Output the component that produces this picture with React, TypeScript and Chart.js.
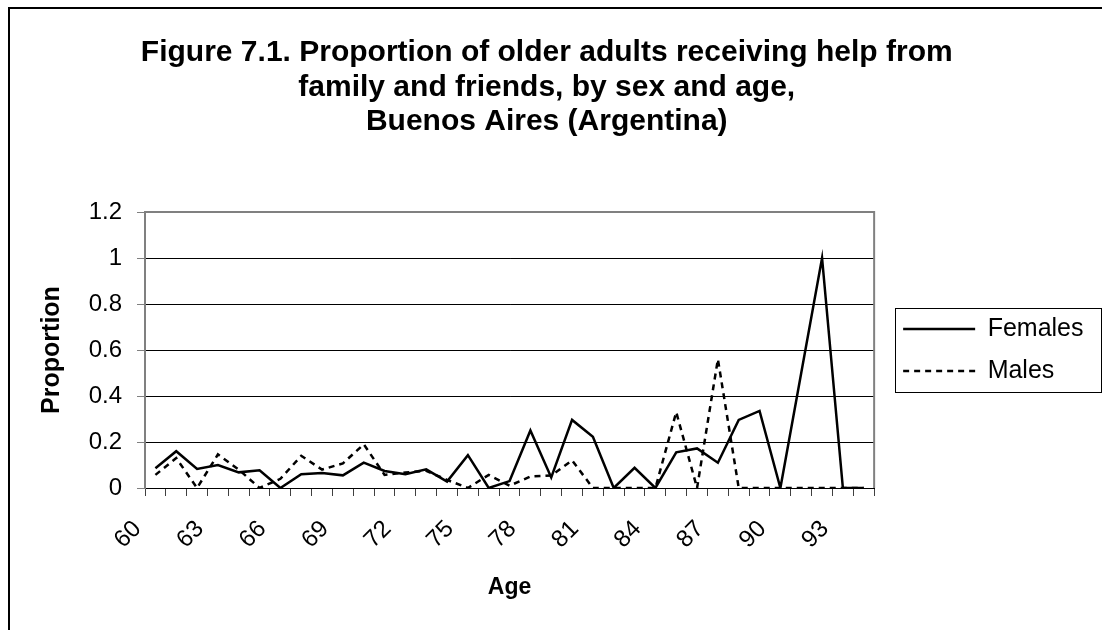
import React, { useEffect, useRef } from 'react';
import { Chart, registerables } from 'chart.js';

Chart.register(...registerables);

const titleLines = [
  'Figure 7.1. Proportion of older adults receiving help from',
  'family and friends, by sex and age,',
  'Buenos Aires (Argentina)',
];
const xAxisTitle = 'Age';
const yAxisTitle = 'Proportion';
const seriesNames = ['Females', 'Males'];

const ages = [
  '60', '61', '62', '63', '64', '65', '66', '67', '68', '69',
  '70', '71', '72', '73', '74', '75', '76', '77', '78', '79',
  '80', '81', '82', '83', '84', '85', '86', '87', '88', '89',
  '90', '91', '92', '93', '94',
];

const females = [
  0.086, 0.16, 0.083, 0.1, 0.068, 0.077, 0, 0.06, 0.065, 0.055,
  0.11, 0.074, 0.06, 0.081, 0.028, 0.143, 0, 0.03, 0.25, 0.046,
  0.296, 0.223, 0, 0.088, 0, 0.155, 0.172, 0.11, 0.296, 0.335,
  0, 0.5, 1.0, 0, 0,
];

const males = [
  0.057, 0.13, 0, 0.146, 0.08, 0, 0.04, 0.14, 0.08, 0.107,
  0.19, 0.057, 0.067, 0.075, 0.035, 0, 0.057, 0.01, 0.05, 0.054,
  0.12, 0, 0, 0, 0, 0.33, 0, 0.56, 0, 0,
  0, 0, 0, 0, 0,
];

const yMax = 1.2;
const yStep = 0.2;
const labelEvery = 3;

const FONT = "'Liberation Sans', Arial, Helvetica, sans-serif";

const plotFrame = {
  id: 'plotFrame',
  beforeDatasetsDraw(chart: any) {
    const { ctx, chartArea: a } = chart;
    ctx.save();
    ctx.strokeStyle = '#808080';
    ctx.lineWidth = 2;
    ctx.beginPath();
    ctx.moveTo(a.left, a.top);
    ctx.lineTo(a.right, a.top);
    ctx.lineTo(a.right, a.bottom);
    ctx.stroke();
    ctx.restore();
  },
};

const legendFrame = {
  id: 'legendFrame',
  afterDraw(chart: any) {
    const lg = chart.legend;
    if (!lg) return;
    const { ctx } = chart;
    const cy = (lg.top + lg.bottom) / 2;
    const left = lg.left + 9;
    const right = chart.width - 1;
    ctx.save();
    ctx.strokeStyle = '#000';
    ctx.lineWidth = 1;
    ctx.strokeRect(Math.round(left) + 0.5, Math.round(cy - 42) + 0.5, Math.round(right - left), 84);
    ctx.restore();
  },
};

export default function App() {
  const canvasRef = useRef<HTMLCanvasElement | null>(null);

  useEffect(() => {
    const canvas = canvasRef.current;
    if (!canvas) return;
    Chart.defaults.font.family = FONT;
    Chart.defaults.color = '#000';

    const chart = new Chart(canvas, {
      type: 'line',
      data: {
        labels: ages,
        datasets: [
          {
            label: seriesNames[0],
            data: females,
            borderColor: '#000',
            backgroundColor: '#000',
            borderWidth: 2.5,
            pointRadius: 0,
            pointStyle: 'line',
            tension: 0,
            fill: false,
          },
          {
            label: seriesNames[1],
            data: males,
            borderColor: '#000',
            backgroundColor: '#000',
            borderWidth: 2.5,
            borderDash: [6, 5],
            pointRadius: 0,
            pointStyle: 'line',
            tension: 0,
            fill: false,
          },
        ],
      },
      plugins: [plotFrame, legendFrame],
      options: {
        responsive: false,
        animation: false,
        devicePixelRatio: 1,
        layout: { padding: { left: 0, right: 8.5, top: 0, bottom: 0 } },
        plugins: {
          title: {
            display: true,
            text: titleLines,
            color: '#000',
            font: { family: FONT, size: 30, weight: 'bold', lineHeight: 1.15 },
            padding: { top: 35.75, bottom: 72.75 },
          },
          legend: {
            display: true,
            position: 'right',
            fullSize: false,
            maxWidth: 320,
            labels: {
              usePointStyle: true,
              pointStyle: 'line',
              pointStyleWidth: 72,
              padding: 17,
              color: '#000',
              font: { family: FONT, size: 25 },
              generateLabels: (c: any) => {
                const base = (Chart.defaults as any).plugins.legend.labels.generateLabels(c);
                return base.map((it: any, i: number) => ({
                  ...it,
                  pointStyle: 'line',
                  lineWidth: 2.5,
                  strokeStyle: '#000',
                  fillStyle: '#000',
                  lineDash: c.data.datasets[i].borderDash || [],
                }));
              },
            },
          },
          tooltip: { enabled: false },
        },
        scales: {
          x: {
            type: 'category',
            offset: true,
            grid: {
              display: true,
              offset: true,
              drawOnChartArea: false,
              drawTicks: true,
              tickLength: 8,
              tickColor: '#404040',
              tickWidth: 1,
            },
            border: { display: true, color: '#000', width: 1 },
            ticks: {
              autoSkip: false,
              minRotation: 45,
              maxRotation: 45,
              padding: 19,
              labelOffset: -18,
              color: '#000',
              font: { family: FONT, size: 24 },
              callback: (_v: any, i: number) => (i % labelEvery === 0 ? ages[i] : ''),
            },
            title: {
              display: true,
              text: xAxisTitle,
              color: '#000',
              font: { family: FONT, size: 23, weight: 'bold', lineHeight: 1.2 },
              padding: { top: 0, bottom: 28.2 },
            },
            afterFit: (s: any) => {
              s.height = 142;
            },
          },
          y: {
            type: 'linear',
            min: 0,
            max: yMax,
            grid: {
              display: true,
              color: (c: any) =>
                c.tick && Math.abs(c.tick.value - yMax) < 1e-6 ? 'rgba(0,0,0,0)' : '#000',
              lineWidth: 1,
              drawTicks: true,
              tickLength: 8,
              tickColor: '#808080',
              tickWidth: 1,
            },
            border: { display: true, color: '#808080', width: 2 },
            ticks: {
              stepSize: yStep,
              padding: 15,
              color: '#000',
              font: { family: FONT, size: 24 },
              callback: (v: any) => String(Math.round(Number(v) * 10) / 10),
            },
            title: {
              display: true,
              text: yAxisTitle,
              color: '#000',
              font: { family: FONT, size: 25, weight: 'bold', lineHeight: 1.2 },
              padding: { top: 37.5, bottom: 0 },
            },
            afterFit: (s: any) => {
              s.width = 145;
            },
          },
          spacer: {
            type: 'linear',
            position: 'right',
            display: true,
            grid: { display: false },
            border: { display: false },
            ticks: { display: false },
            afterFit: (s: any) => {
              s.width = 12;
            },
          },
        },
      },
    } as any);

    return () => chart.destroy();
  }, []);

  return (
    <div
      style={{
        position: 'fixed',
        left: 0,
        top: 0,
        width: 1102,
        height: 630,
        background: '#fff',
        overflow: 'hidden',
      }}
    >
      <canvas
        ref={canvasRef}
        width={1102}
        height={630}
        style={{ position: 'absolute', left: 0, top: 0, width: 1102, height: 630 }}
      />
      <div
        style={{
          position: 'absolute',
          left: 8,
          top: 7,
          right: 0,
          bottom: 0,
          borderTop: '2px solid #000',
          borderLeft: '2px solid #000',
          pointerEvents: 'none',
        }}
      />
    </div>
  );
}
